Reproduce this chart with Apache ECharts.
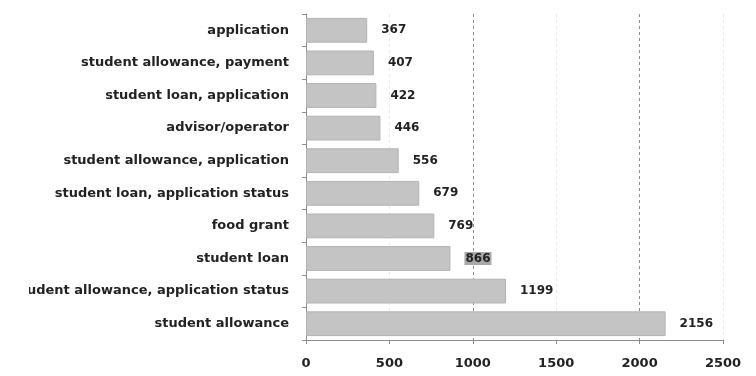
<!DOCTYPE html>
<html>
<head>
<meta charset="utf-8">
<script src="https://cdn.jsdelivr.net/npm/echarts@6/dist/echarts.min.js"></script>
<style>
  html, body { margin: 0; padding: 0; background: #fff; }
  #chart { width: 756px; height: 376px; }
</style>
</head>
<body>
<div id="chart"></div>
<script>
// Categories listed bottom to top (ECharts draws the first category at the bottom)
const categories = [
  'student allowance',
  'student allowance, application status',
  'student loan',
  'food grant',
  'student loan, application status',
  'student allowance, application',
  'advisor/operator',
  'student loan, application',
  'student allowance, payment',
  'application'
];
const counts = [2156, 1199, 866, 769, 679, 556, 446, 422, 407, 367];
const xTicks = [0, 500, 1000, 1500, 2000, 2500];

const FONT = '"DejaVu Sans", sans-serif';

const chart = echarts.init(document.getElementById('chart'), null, { renderer: 'canvas' });

const barData = counts.map((v, i) => {
  const item = { value: v };
  if (categories[i] === 'student loan') {
    item.label = { backgroundColor: '#a8a8a8', padding: [1, 1, 0, 1] };
  }
  return item;
});

chart.setOption({
  animation: false,
  backgroundColor: '#ffffff',
  grid: { left: 306, right: 33, top: 14, bottom: 36, containLabel: false },
  xAxis: {
    type: 'value',
    min: xTicks[0],
    max: xTicks[xTicks.length - 1],
    interval: 500,
    axisLine: { show: true, lineStyle: { color: '#8c8c8c', width: 1 } },
    axisTick: { show: true, length: 4, lineStyle: { color: '#8c8c8c' } },
    axisLabel: {
      color: '#222', fontFamily: FONT, fontWeight: 'bold', fontSize: 13, margin: 17,
      formatter: v => String(v)
    },
    splitLine: {
      show: true,
      lineStyle: { color: ['#8c8c8c', '#e8e8e8'], type: [3, 3], width: 1 }
    }
  },
  yAxis: {
    type: 'category',
    data: categories,
    axisLine: { show: true, lineStyle: { color: '#8c8c8c', width: 1 } },
    axisTick: { show: true, length: 4, lineStyle: { color: '#8c8c8c' } },
    axisLabel: {
      color: '#222', fontFamily: FONT, fontWeight: 'bold', fontSize: 13, margin: 17
    },
    splitLine: { show: false }
  },
  series: [{
    type: 'bar',
    data: barData,
    barCategoryGap: '24%',
    itemStyle: { color: '#c4c4c4', borderColor: '#b2b2b2', borderWidth: 1 },
    label: {
      show: true,
      position: 'right',
      distance: 14,
      color: '#222',
      fontFamily: FONT,
      fontWeight: 'bold',
      fontSize: 12
    }
  }],
  // white strip along the left edge of the canvas
  graphic: [{
    type: 'rect',
    left: 0, top: 0,
    shape: { width: 29, height: 376 },
    style: { fill: '#ffffff' },
    z: 100
  }]
});
</script>
</body>
</html>
